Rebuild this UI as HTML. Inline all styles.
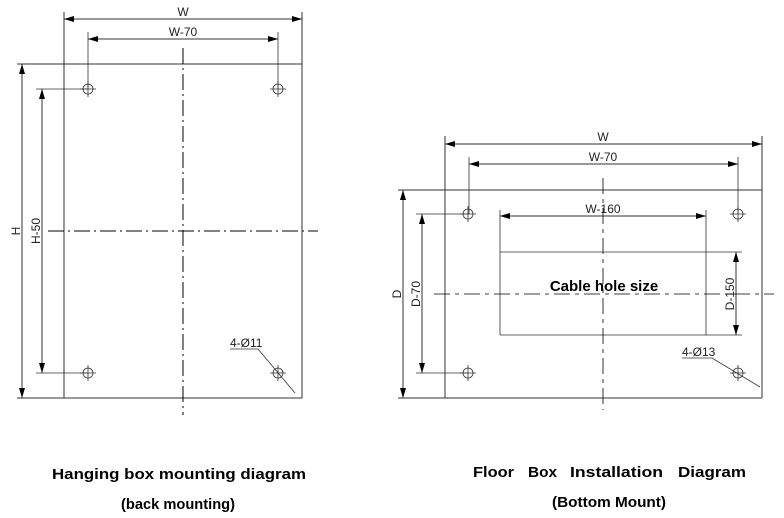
<!DOCTYPE html>
<html><head><meta charset="utf-8"><style>
html,body{margin:0;padding:0;background:#fff;width:784px;height:518px;overflow:hidden}
svg{display:block}
.d{font-family:"Liberation Sans",sans-serif;font-size:12px;fill:#222}
.c{font-family:"Liberation Sans",sans-serif;font-size:15px;font-weight:bold;fill:#000}
</style></head><body>
<svg width="784" height="518" viewBox="0 0 784 518" xmlns="http://www.w3.org/2000/svg">
<defs>
<marker id="a" viewBox="0 0 10 6" refX="10" refY="3" markerWidth="10" markerHeight="6" orient="auto-start-reverse" markerUnits="userSpaceOnUse"><path d="M0,0L10,3L0,6z" fill="#000"/></marker>
<g id="h"><circle r="5" fill="none" stroke="#333" stroke-width="0.8"/><path d="M-8,0H8M0,-8V8" stroke="#333" stroke-width="0.8"/></g>
</defs>
<g stroke="#333" stroke-width="1" fill="none">
<path d="M64,12V398M302,12V398M17,64H302M17,398H302"/>
<path d="M88,32V89M278,32V89M36,89H88M36,373H88" stroke-width="0.8"/>
<line x1="64" y1="19" x2="302" y2="19" marker-start="url(#a)" marker-end="url(#a)"/>
<line x1="88" y1="39" x2="278" y2="39" marker-start="url(#a)" marker-end="url(#a)"/>
<line x1="22" y1="64" x2="22" y2="398" marker-start="url(#a)" marker-end="url(#a)"/>
<line x1="42" y1="89" x2="42" y2="373" marker-start="url(#a)" marker-end="url(#a)"/>
<path d="M183,48V415M48,231H318" stroke="#000" stroke-dasharray="16,4,2,4"/>
<path d="M230,349H258L295,393" stroke-width="0.8"/>
<path d="M445,136V398M762,136V398M398,190H762M398,398H762"/>
<path d="M469,157V214M738,157V214M416,214H468M416,373H468" stroke-width="0.8"/>
<path d="M500,210V335M706,210V335M500,252H742M500,335H742" stroke-width="0.8"/>
<line x1="445" y1="144" x2="762" y2="144" marker-start="url(#a)" marker-end="url(#a)"/>
<line x1="469" y1="164" x2="738" y2="164" marker-start="url(#a)" marker-end="url(#a)"/>
<line x1="500" y1="216" x2="706" y2="216" marker-start="url(#a)" marker-end="url(#a)"/>
<line x1="403" y1="190" x2="403" y2="398" marker-start="url(#a)" marker-end="url(#a)"/>
<line x1="422" y1="214" x2="422" y2="373" marker-start="url(#a)" marker-end="url(#a)"/>
<line x1="736" y1="252" x2="736" y2="335" marker-start="url(#a)" marker-end="url(#a)"/>
<path d="M603,178V410M434,294H774" stroke="#000" stroke-width="0.8" stroke-dasharray="16,5,4,5"/>
<path d="M682,358H712L760,387" stroke-width="0.8"/>
</g>
<use href="#h" x="88" y="89"/><use href="#h" x="278" y="89"/><use href="#h" x="88" y="373"/><use href="#h" x="278" y="373"/>
<use href="#h" x="468" y="214"/><use href="#h" x="738" y="214"/><use href="#h" x="468" y="373"/><use href="#h" x="738" y="373"/>
<text class="d" x="183" y="16" text-anchor="middle">W</text>
<text class="d" x="183" y="36" text-anchor="middle">W-70</text>
<text class="d" transform="translate(20,231) rotate(-90)" text-anchor="middle">H</text>
<text class="d" transform="translate(40,231) rotate(-90)" text-anchor="middle">H-50</text>
<text class="d" x="230" y="347">4-Ø11</text>
<text class="d" x="603" y="141" text-anchor="middle">W</text>
<text class="d" x="603" y="161" text-anchor="middle">W-70</text>
<text class="d" x="603" y="213" text-anchor="middle">W-160</text>
<text class="d" transform="translate(401,294) rotate(-90)" text-anchor="middle">D</text>
<text class="d" transform="translate(420,294) rotate(-90)" text-anchor="middle">D-70</text>
<text class="d" transform="translate(734,294) rotate(-90)" text-anchor="middle">D-150</text>
<text class="d" x="682" y="356">4-Ø13</text>
<text class="c" x="604" y="291" text-anchor="middle" font-size="16">Cable hole size</text>
<text class="c" x="52" y="479" textLength="254" lengthAdjust="spacingAndGlyphs">Hanging box mounting diagram</text>
<text class="c" x="121" y="509" textLength="114" lengthAdjust="spacingAndGlyphs">(back mounting)</text>
<text class="c" x="473" y="477" textLength="41" lengthAdjust="spacingAndGlyphs">Floor</text>
<text class="c" x="528" y="477" textLength="29" lengthAdjust="spacingAndGlyphs">Box</text>
<text class="c" x="570" y="477" textLength="93" lengthAdjust="spacingAndGlyphs">Installation</text>
<text class="c" x="678" y="477" textLength="68" lengthAdjust="spacingAndGlyphs">Diagram</text>
<text class="c" x="552" y="507" textLength="114" lengthAdjust="spacingAndGlyphs">(Bottom Mount)</text>
</svg>
</body></html>
